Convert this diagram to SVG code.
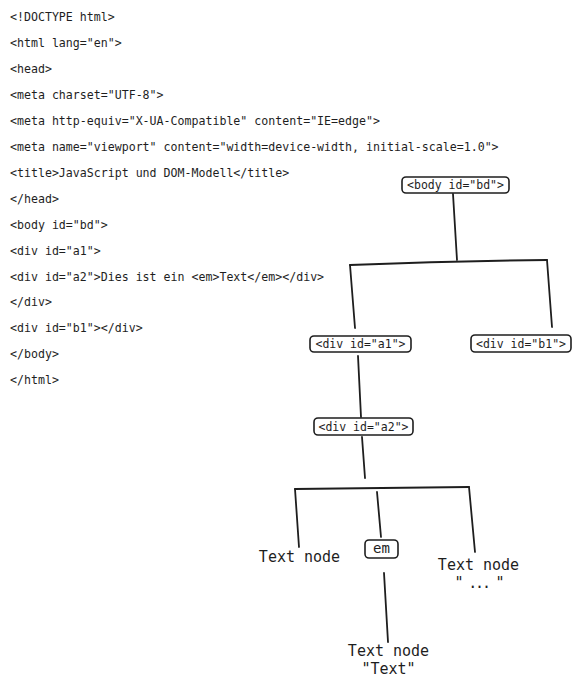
<svg xmlns="http://www.w3.org/2000/svg" width="582" height="689" viewBox="0 0 582 689">
<style>
.code{font-family:"DejaVu Sans Mono","Liberation Mono",monospace;font-size:11.6px;fill:#1e1e1e}
.box{fill:#fff;stroke:#1e1e1e;stroke-width:1.6}
.bt{font-family:"DejaVu Sans Mono","Liberation Mono",monospace;font-size:11.5px;fill:#1e1e1e;text-anchor:middle}
.lbl{font-family:"DejaVu Sans Mono","Liberation Mono",monospace;font-size:15px;fill:#1e1e1e;text-anchor:middle}
.ln{fill:none;stroke:#1e1e1e;stroke-width:1.8;stroke-linecap:round;stroke-linejoin:round}
</style>
<rect width="582" height="689" fill="#fff"/>
<g id="code">
<text class="code" x="10" y="21">&lt;!DOCTYPE html&gt;</text>
<text class="code" x="10" y="47">&lt;html lang="en"&gt;</text>
<text class="code" x="10" y="73">&lt;head&gt;</text>
<text class="code" x="10" y="99">&lt;meta charset="UTF-8"&gt;</text>
<text class="code" x="10" y="125">&lt;meta http-equiv="X-UA-Compatible" content="IE=edge"&gt;</text>
<text class="code" x="10" y="151">&lt;meta name="viewport" content="width=device-width, initial-scale=1.0"&gt;</text>
<text class="code" x="10" y="177">&lt;title&gt;JavaScript und DOM-Modell&lt;/title&gt;</text>
<text class="code" x="10" y="203">&lt;/head&gt;</text>
<text class="code" x="10" y="229">&lt;body id="bd"&gt;</text>
<text class="code" x="10" y="255">&lt;div id="a1"&gt;</text>
<text class="code" x="10" y="281">&lt;div id="a2"&gt;Dies ist ein &lt;em&gt;Text&lt;/em&gt;&lt;/div&gt;</text>
<text class="code" x="10" y="306">&lt;/div&gt;</text>
<text class="code" x="10" y="332">&lt;div id="b1"&gt;&lt;/div&gt;</text>
<text class="code" x="10" y="358">&lt;/body&gt;</text>
<text class="code" x="10" y="384">&lt;/html&gt;</text>
</g>
<g id="connectors">
<path class="ln" d="M453 194 L457 260"/>
<path class="ln" d="M350 265 Q450 261 547 260"/>
<path class="ln" d="M350 265 L355 328"/>
<path class="ln" d="M547 260 L552 327"/>
<path class="ln" d="M358 356 L361 417"/>
<path class="ln" d="M362 437 L365 478"/>
<path class="ln" d="M295 489 Q380 488 469 487"/>
<path class="ln" d="M295 489 L299 547"/>
<path class="ln" d="M377 492 L381 537"/>
<path class="ln" d="M469 487 L475 552"/>
<path class="ln" d="M384 573 L388 642"/>
</g>
<g id="n-body">
<rect class="box" x="402" y="177" width="107" height="16" rx="4"/>
<text class="bt" x="455.5" y="189">&lt;body id="bd"&gt;</text>
</g>
<g id="n-a1">
<rect class="box" x="310" y="336" width="101" height="16" rx="4"/>
<text class="bt" x="360.5" y="348">&lt;div id="a1"&gt;</text>
</g>
<g id="n-b1">
<rect class="box" x="471" y="335" width="100" height="17" rx="4"/>
<text class="bt" x="521" y="347.5">&lt;div id="b1"&gt;</text>
</g>
<g id="n-a2">
<rect class="box" x="314" y="418" width="99" height="17" rx="4"/>
<text class="bt" x="363.5" y="430.5">&lt;div id="a2"&gt;</text>
</g>
<g id="n-em">
<rect class="box" x="365" y="540" width="33" height="18" rx="4"/>
<text class="lbl" x="381.5" y="553" style="font-size:14px">em</text>
</g>
<g id="t1">
<text class="lbl" x="299.5" y="562">Text node</text>
</g>
<g id="t2">
<text class="lbl" x="478.5" y="570">Text node</text>
<text class="lbl" x="478.5" y="588" style="letter-spacing:-2.2px">" ... "</text>
</g>
<g id="t3">
<text class="lbl" x="388.5" y="656">Text node</text>
<text class="lbl" x="388.5" y="674">"Text"</text>
</g>
</svg>
